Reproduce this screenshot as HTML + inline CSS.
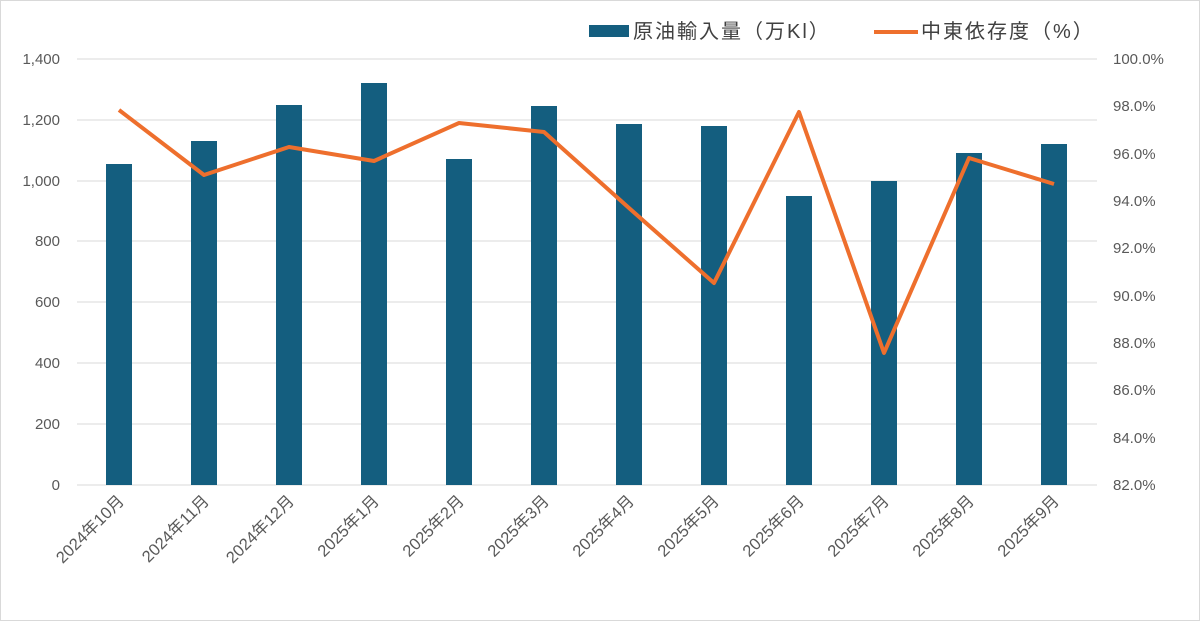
<!DOCTYPE html>
<html><head><meta charset="utf-8"><style>body{margin:0;background:#fff}svg{display:block}</style></head><body>
<svg width="1200" height="621" viewBox="0 0 1200 621" xmlns="http://www.w3.org/2000/svg" font-family="Liberation Sans, Noto Sans CJK JP, sans-serif">
<rect x="0.5" y="0.5" width="1199" height="620" fill="#fff" stroke="#d9d9d9"/>
<g stroke="#d9d9d9" stroke-width="1">
<line x1="77" x2="1097" y1="59" y2="59"/><line x1="77" x2="1097" y1="120" y2="120"/><line x1="77" x2="1097" y1="181" y2="181"/><line x1="77" x2="1097" y1="241" y2="241"/><line x1="77" x2="1097" y1="302" y2="302"/><line x1="77" x2="1097" y1="363" y2="363"/><line x1="77" x2="1097" y1="424" y2="424"/><line x1="77" x2="1097" y1="485" y2="485"/>
</g>
<g font-size="15" fill="#595959" text-anchor="end">
<text x="60" y="64">1,400</text><text x="60" y="125">1,200</text><text x="60" y="186">1,000</text><text x="60" y="246">800</text><text x="60" y="307">600</text><text x="60" y="368">400</text><text x="60" y="429">200</text><text x="60" y="490">0</text>
</g>
<g font-size="15" fill="#595959" text-anchor="start">
<text x="1113" y="64">100.0%</text><text x="1113" y="111">98.0%</text><text x="1113" y="159">96.0%</text><text x="1113" y="206">94.0%</text><text x="1113" y="253">92.0%</text><text x="1113" y="301">90.0%</text><text x="1113" y="348">88.0%</text><text x="1113" y="395">86.0%</text><text x="1113" y="443">84.0%</text><text x="1113" y="490">82.0%</text>
</g>
<g fill="#145e7f">
<rect x="106" y="164" width="26" height="321"/><rect x="191" y="141" width="26" height="344"/><rect x="276" y="105" width="26" height="380"/><rect x="361" y="83" width="26" height="402"/><rect x="446" y="159" width="26" height="326"/><rect x="531" y="106" width="26" height="379"/><rect x="616" y="124" width="26" height="361"/><rect x="701" y="126" width="26" height="359"/><rect x="786" y="196" width="26" height="289"/><rect x="871" y="181" width="26" height="304"/><rect x="956" y="153" width="26" height="332"/><rect x="1041" y="144" width="26" height="341"/>
</g>
<polyline fill="none" stroke="#ee6f2d" stroke-width="4" stroke-linejoin="round" points="119,110 204,175 289,147 374,161 459,123 544,132 629,208 714,283 799,112 884,353 969,158 1054,184"/>
<g font-size="16.5" fill="#595959" text-anchor="end">
<text transform="translate(125,502) rotate(-45)">2024年10月</text>
<text transform="translate(210,502) rotate(-45)">2024年11月</text>
<text transform="translate(295,502) rotate(-45)">2024年12月</text>
<text transform="translate(380,502) rotate(-45)">2025年1月</text>
<text transform="translate(465,502) rotate(-45)">2025年2月</text>
<text transform="translate(550,502) rotate(-45)">2025年3月</text>
<text transform="translate(635,502) rotate(-45)">2025年4月</text>
<text transform="translate(720,502) rotate(-45)">2025年5月</text>
<text transform="translate(805,502) rotate(-45)">2025年6月</text>
<text transform="translate(890,502) rotate(-45)">2025年7月</text>
<text transform="translate(975,502) rotate(-45)">2025年8月</text>
<text transform="translate(1060,502) rotate(-45)">2025年9月</text>
</g>
<rect x="589" y="25" width="40" height="12" fill="#145e7f"/>
<text x="633" y="38" font-size="20" fill="#404040" letter-spacing="2">原油輸入量（万Kl）</text>
<line x1="874" x2="918" y1="32" y2="32" stroke="#ee6f2d" stroke-width="4"/>
<text x="921" y="38" font-size="20" fill="#404040" letter-spacing="2">中東依存度（%）</text>
</svg>
</body></html>
